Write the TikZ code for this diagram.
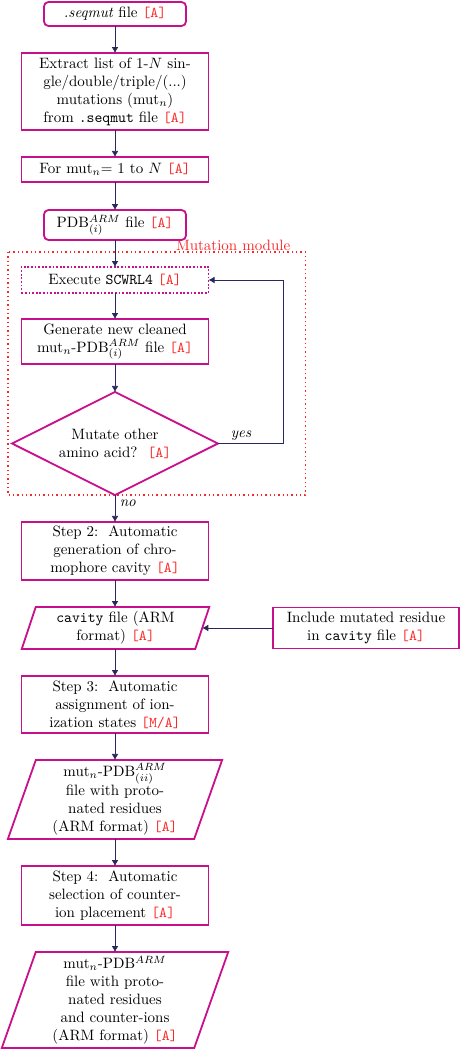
\documentclass[tikz,border=0pt]{standalone}
\usetikzlibrary{shapes.geometric,arrows.meta}
\definecolor{magB}{RGB}{200,16,140}
\definecolor{navyA}{RGB}{40,40,90}
\definecolor{redA}{RGB}{250,40,40}
\newcommand{\tagA}{\textcolor{redA}{\texttt{[A]}}}
\newcommand{\tagMA}{\textcolor{redA}{\texttt{[M/A]}}}
\begin{document}
\begin{tikzpicture}[x=0.66667pt,y=-0.66667pt,
  bord/.style={draw=magB,line width=1.2pt},
  procbox/.style={bord,rectangle,align=center,minimum width=124.7pt,inner sep=2pt,outer sep=0pt},
  filebox/.style={procbox,rounded corners=3pt,minimum width=94.7pt},
  dotbox/.style={procbox,dash pattern=on 1.2pt off 1.2pt},
  parabox/.style={rectangle,align=center,inner sep=0pt,outer sep=0pt},
  decbox/.style={bord,diamond,aspect=2,align=center,inner sep=0pt,outer sep=0pt},
  arr/.style={draw=navyA,line width=0.5pt,-{Latex[length=4pt,width=4.5pt]}},
  lbl/.style={font=\itshape,inner sep=1pt},
  modbox/.style={draw=redA,line width=0.9pt,dash pattern=on 0.9pt off 2pt}
]
\useasboundingbox (0,0) rectangle (461,1050);

% module frame
\draw[modbox] (8,252) rectangle (305.5,495);
\node[text=redA,anchor=south east,inner sep=1pt] (modlbl) at (292,252) {Mutation module};

\node[filebox,minimum height=16pt] (n1) at (115,14) {\textit{.seqmut} file \tagA};
\node[procbox,minimum height=51.3pt] (n2) at (115,91.5) {Extract list of 1-$N$ sin-\\gle/double/triple/(...)\\mutations (mut$_n$)\\from \texttt{.seqmut} file \tagA};
\node[procbox,minimum height=16.7pt] (n3) at (115,169.5) {For mut$_n$= 1 to $N$ \tagA};
\node[filebox,minimum height=20pt] (n4) at (115,225) {PDB$^{ARM}_{(i)}$ file \tagA};
\node[dotbox,minimum height=17.3pt] (n5) at (115,280) {Execute \texttt{SCWRL4} \tagA};
\node[procbox,minimum height=30pt] (n6) at (115,341.5) {Generate new cleaned\\mut$_n$-PDB$^{ARM}_{(i)}$ file \tagA};
\node[decbox,minimum width=137.3pt,minimum height=68.7pt] (d) at (115,443.5) {Mutate other\\amino acid?\ \ \tagA};
\node[procbox,minimum height=38.7pt] (s2) at (115,551) {Step 2:\ \ Automatic\\generation of chro-\\mophore cavity \tagA};
\node[parabox,minimum width=115.7pt,minimum height=28pt] (cav) at (115.5,628) {\texttt{cavity} file (ARM\\format) \tagA};
\draw[bord] ([xshift=-4.67pt]cav.south west) -- ([xshift=4.67pt]cav.north west) -- ([xshift=4.67pt]cav.north east) -- ([xshift=-4.67pt]cav.south east) -- cycle;
\node[procbox,minimum width=124pt,minimum height=27.3pt] (inc) at (366,628) {Include mutated residue\\in \texttt{cavity} file \tagA};
\node[procbox,minimum height=38pt] (s3) at (115,704.5) {Step 3:\ \ Automatic\\assignment of ion-\\ization states \tagMA};
\node[parabox,minimum width=124.2pt,minimum height=52.7pt] (pp) at (115,799.5) {mut$_n$-PDB$^{ARM}_{(ii)}$\\file with proto-\\nated residues\\(ARM format) \tagA};
\draw[bord] ([xshift=-9.33pt]pp.south west) -- ([xshift=9.33pt]pp.north west) -- ([xshift=9.33pt]pp.north east) -- ([xshift=-9.33pt]pp.south east) -- cycle;
\node[procbox,minimum height=39.3pt] (s4) at (115,895.5) {Step 4:\ \ Automatic\\selection of counter-\\ion placement \tagA};
\node[parabox,minimum width=128.3pt,minimum height=64pt] (fin) at (115,1000) {mut$_n$-PDB$^{ARM}$\\file with proto-\\nated residues\\and counter-ions\\(ARM format) \tagA};
\draw[bord] ([xshift=-11.33pt]fin.south west) -- ([xshift=11.33pt]fin.north west) -- ([xshift=11.33pt]fin.north east) -- ([xshift=-11.33pt]fin.south east) -- cycle;

% connectors
\draw[arr] (n1) -- (n2);
\draw[arr] (n2) -- (n3);
\draw[arr] (n3) -- (n4);
\draw[arr] (n4) -- (n5);
\draw[arr] (n5) -- (n6);
\draw[arr] (n6) -- (d);
\draw[arr] (d.south) -- (s2.north);
\node[lbl,anchor=west] (no) at (118,503) {no};
\coordinate (yc) at (283,280);
\draw[arr] (d.east) -| (yc) -- (n5.east);
\node[lbl] (yes) at (241,436) {yes};
\draw[arr] (s2.south) -- (s2.south |- cav.north);
\draw[arr] (inc.west) -- (cav.east);
\draw[arr] (s3.north |- cav.south) -- (s3.north);
\draw[arr] (s3) -- (pp);
\draw[arr] (pp) -- (s4);
\draw[arr] (s4) -- (fin);
\end{tikzpicture}
\end{document}
